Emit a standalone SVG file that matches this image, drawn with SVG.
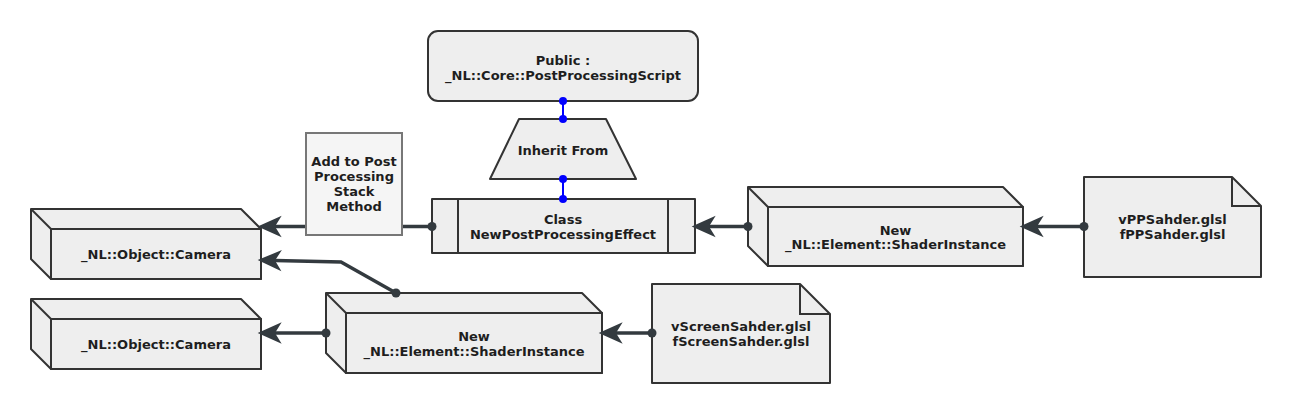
<svg xmlns="http://www.w3.org/2000/svg" width="1293" height="415" viewBox="0 0 1293 415">
<defs>
<style>
.n{fill:#eeeeee;stroke:#333333;stroke-width:2;stroke-linejoin:round}
.ln{fill:none;stroke:#333333;stroke-width:2}
.t{font-family:"DejaVu Sans",Verdana,sans-serif;font-weight:bold;font-size:13px;fill:#1e1e1e;text-anchor:middle}
.c{fill:none;stroke:#333a3f;stroke-width:3.5}
.b{fill:none;stroke:#0000ff;stroke-width:2}
</style>
<marker id="arr" markerUnits="userSpaceOnUse" markerWidth="40" markerHeight="40" viewBox="-10 -10 30 20" refX="0" refY="0" orient="auto" overflow="visible">
<path d="M13,0 L-5,-8 L0,0 L-5,8 Z" fill="#333a3f"/>
</marker>
<marker id="dot" markerUnits="userSpaceOnUse" markerWidth="12" markerHeight="12" viewBox="-6 -6 12 12" refX="0" refY="0" overflow="visible">
<circle r="4.5" fill="#333a3f"/>
</marker>
<marker id="bdot" markerUnits="userSpaceOnUse" markerWidth="10" markerHeight="10" viewBox="-5 -5 10 10" refX="0" refY="0" overflow="visible">
<circle r="4" fill="#0000ff"/>
</marker>
</defs>
<rect width="1293" height="415" fill="#ffffff"/>

<g id="script">
<rect class="n" x="428" y="31" width="270" height="70" rx="10"/>
<text class="t" x="563" y="64.5">Public :</text>
<text class="t" x="563" y="79.5">_NL::Core::PostProcessingScript</text>
</g>

<g id="inherit">
<polygon class="n" points="519,119 606,119 636,179 490,179"/>
<text class="t" x="563" y="155">Inherit From</text>
</g>

<g id="class">
<rect class="n" x="432" y="199" width="263" height="54"/>
<line class="ln" x1="458" y1="199" x2="458" y2="253"/>
<line class="ln" x1="668" y1="199" x2="668" y2="253"/>
<text class="t" x="563" y="224">Class</text>
<text class="t" x="563" y="238.5">NewPostProcessingEffect</text>
</g>

<g id="camera1">
<polygon class="n" points="31,209 241,209 261,229 261,279 51,279 31,259"/>
<rect class="n" x="51" y="229" width="210" height="50"/>
<line class="ln" x1="31" y1="209" x2="51" y2="229"/>
<text class="t" x="156" y="258.5">_NL::Object::Camera</text>
</g>

<g id="camera2">
<polygon class="n" points="31,299 241,299 261,319 261,369 51,369 31,349"/>
<rect class="n" x="51" y="319" width="210" height="50"/>
<line class="ln" x1="31" y1="299" x2="51" y2="319"/>
<text class="t" x="156" y="348.5">_NL::Object::Camera</text>
</g>

<g id="shader1">
<polygon class="n" points="748,187 1003,187 1023,207 1023,266 768,266 748,246"/>
<rect class="n" x="768" y="207" width="255" height="59"/>
<line class="ln" x1="748" y1="187" x2="768" y2="207"/>
<text class="t" x="895.5" y="234.5">New</text>
<text class="t" x="895.5" y="249">_NL::Element::ShaderInstance</text>
</g>

<g id="shader2">
<polygon class="n" points="326,293 582,293 602,313 602,373 346,373 326,353"/>
<rect class="n" x="346" y="313" width="256" height="60"/>
<line class="ln" x1="326" y1="293" x2="346" y2="313"/>
<text class="t" x="474" y="341">New</text>
<text class="t" x="474" y="356">_NL::Element::ShaderInstance</text>
</g>

<g id="doc1">
<path class="n" d="M1084,177 L1232,177 L1261,206 L1261,277 L1084,277 Z"/>
<path class="ln" d="M1232,177 L1232,206 L1261,206"/>
<text class="t" x="1172.5" y="224">vPPSahder.glsl</text>
<text class="t" x="1172.5" y="238.5">fPPSahder.glsl</text>
</g>

<g id="doc2">
<path class="n" d="M652,284 L800,284 L830,314 L830,383 L652,383 Z"/>
<path class="ln" d="M800,284 L800,314 L830,314"/>
<text class="t" x="741" y="330.5">vScreenSahder.glsl</text>
<text class="t" x="741" y="345.5">fScreenSahder.glsl</text>
</g>

<g id="connectors">
<path class="b" d="M563,101 L563,119" marker-start="url(#bdot)" marker-end="url(#bdot)"/>
<path class="b" d="M563,179 L563,199" marker-start="url(#bdot)" marker-end="url(#bdot)"/>
<path class="c" d="M432,226.5 L275,226.5" marker-start="url(#dot)" marker-end="url(#arr)"/>
<path class="c" d="M396,293 L341,262 L275,260.5" marker-start="url(#dot)" marker-end="url(#arr)"/>
<path class="c" d="M326,333 L275,333" marker-start="url(#dot)" marker-end="url(#arr)"/>
<path class="c" d="M748,226.5 L709,226.5" marker-start="url(#dot)" marker-end="url(#arr)"/>
<path class="c" d="M1084,226.5 L1037,226.5" marker-start="url(#dot)" marker-end="url(#arr)"/>
<path class="c" d="M652,333 L616,333" marker-start="url(#dot)" marker-end="url(#arr)"/>
</g>

<g id="addmethod">
<rect x="306" y="133" width="96" height="102" fill="#f5f5f5" stroke="#777777" stroke-width="2"/>
<text class="t" x="354" y="165.5">Add to Post</text>
<text class="t" x="354" y="180.5">Processing</text>
<text class="t" x="354" y="195.5">Stack</text>
<text class="t" x="354" y="210.5">Method</text>
</g>
</svg>
